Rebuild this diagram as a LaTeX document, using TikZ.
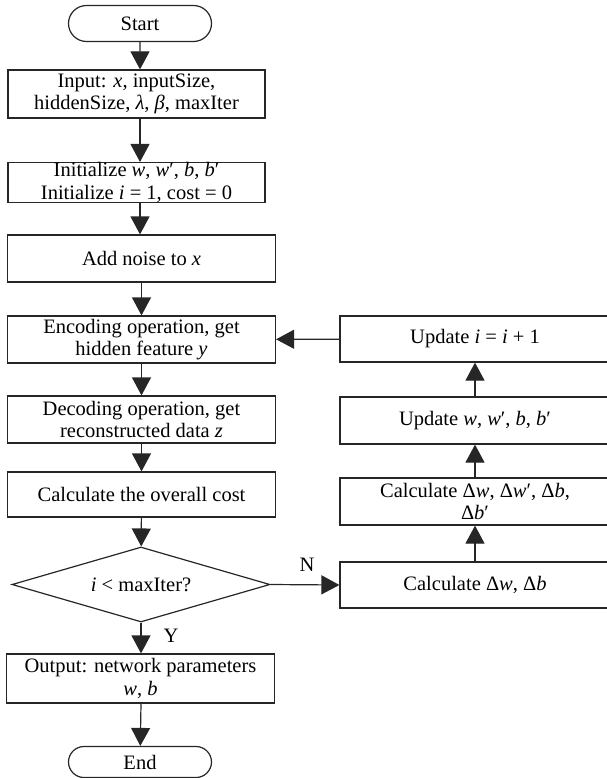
\documentclass[tikz,border=0pt]{standalone}
\usepackage{fontspec}
\setmainfont{Liberation Serif}
\usepackage{tikz}
\usetikzlibrary{arrows.meta,shapes.geometric,shapes.misc}

\tikzset{
  box/.style={draw=black!85,line width=1.2pt,align=center,inner sep=0pt,
    minimum width=268pt,minimum height=47pt},
  term/.style={draw=black!85,line width=1.2pt,rounded rectangle,
    minimum width=145pt,minimum height=36pt,inner sep=1pt},
  test/.style={draw=black!85,line width=1.2pt,diamond,aspect=3.44,inner sep=0pt,
    minimum width=258pt,minimum height=75pt},
  arr/.style={draw=black!85,line width=1.2pt,-{Triangle[length=18pt,width=19pt]}}
}

\begin{document}
\begin{tikzpicture}[font=\fontsize{20.5}{22.5}\selectfont,x=1pt,y=-1pt]
\useasboundingbox (0,0) rectangle (606,778);
% main column
\node[term] (start) at (140,23.5) {Start};
\node[box,minimum width=257pt,minimum height=48pt] (input) at (136.5,94)
  {Input: \textit{x}, inputSize,\\hiddenSize, \textit{λ}, \textit{β}, maxIter};
\node[box,minimum width=257pt,minimum height=39pt] (init) at (136.5,182.5)
  {Initialize \textit{w}, \textit{w}′, \textit{b}, \textit{b}′\\Initialize \textit{i} = 1, cost = 0};
\node[box] (noise) at (141.5,258.5) {Add noise to \textit{x}};
\node[box] (enc) at (141.5,339.5) {Encoding operation, get\\hidden feature \textit{y}};
\node[box] (dec) at (141.5,419.5) {Decoding operation, get\\reconstructed data \textit{z}};
\node[box,minimum height=45pt] (cost) at (141.5,494.5) {Calculate the overall cost};
\node[test] (check) at (141,584.5) {\textit{i} < maxIter?};
\node[box,minimum height=49pt] (out) at (140.5,678.5) {Output: network parameters\\\textit{w}, \textit{b}};
\node[term,minimum height=31pt] (end) at (140,762) {End};
\node (yes) at (171,636) {Y};
\node (no) at (307,565) {N};
% update column
\node[box,minimum width=270pt,minimum height=46pt] (calcA) at (475,585) {Calculate Δ\textit{w}, Δ\textit{b}};
\node[box,minimum width=270pt] (calcB) at (475,501.5)
  {Calculate Δ\textit{w}, Δ\textit{w}′, Δ\textit{b},\\Δ\textit{b}′};
\node[box,minimum width=270pt] (updW) at (475,420.5) {Update \textit{w}, \textit{w}′, \textit{b}, \textit{b}′};
\node[box,minimum width=270pt,minimum height=46pt] (updI) at (475,339) {Update \textit{i} = \textit{i} + 1};

\draw[arr] (start) -- (start |- input.north);
\draw[arr] (start |- input.south) -- (start |- init.north);
\draw[arr] (start |- init.south) -- (start |- noise.north);
\draw[arr] (noise) -- (enc);
\draw[arr] (enc) -- (dec);
\draw[arr] (dec) -- (cost);
\draw[arr] (cost) -- (check);
\draw[arr] (check) -- (check |- out.north);
\draw[arr] (check |- out.south) -- (end);
\draw[arr] (check.east) -- (calcA.west);
\draw[arr] (calcA) -- (calcB);
\draw[arr] (calcB) -- (updW);
\draw[arr] (updW) -- (updI);
\draw[arr] (updI) -- (enc);
\end{tikzpicture}
\end{document}
